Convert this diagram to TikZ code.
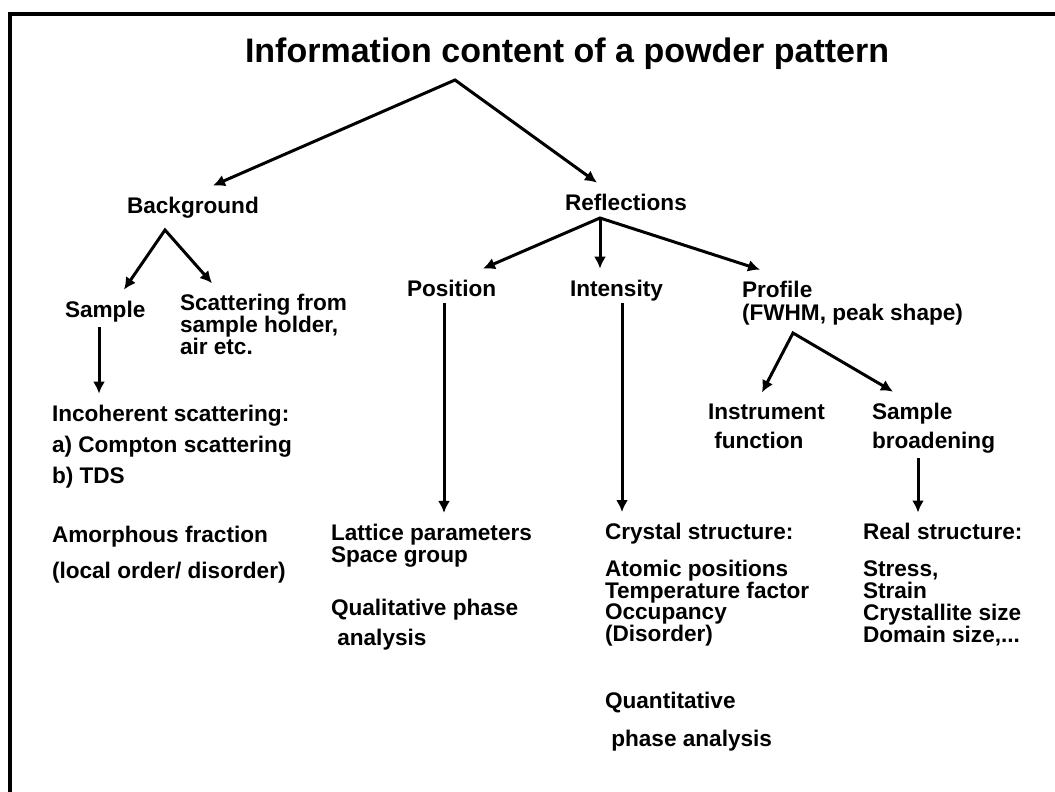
\documentclass[tikz,border=0pt]{standalone}
\usepackage{fontspec}
\setmainfont{Liberation Sans}
\usetikzlibrary{arrows.meta}

\tikzset{
  txt/.style={anchor=base west,align=left,inner sep=0pt,outer xsep=0pt,outer ysep=11pt,
    font=\bfseries\fontsize{22.6}{21.7}\selectfont},
}

\begin{document}
\begin{tikzpicture}[x=1pt,y=-1pt,>={Latex[length=12pt,width=12pt]},line width=3pt]
  \useasboundingbox (0,0) rectangle (1055,792);
  \draw[line width=4pt] (1055,14)--(10,14)--(10,792);

  \node[txt,font=\bfseries\fontsize{34}{40}\selectfont] (title) at (245,63) {Information content of a powder pattern};

  % first level
  \node[txt] (bg) at (127,213) {Background};
  \node[txt] (refl) at (565,210) {Reflections};

  % background branch (multi-line nodes sit on their last baseline)
  \node[txt] (smp) at (65,317) {Sample};
  \node[txt] (holder) at (180,354) {Scattering from\\sample holder,\\air etc.};
  \node[txt] (incoh) at (52,578) {Incoherent scattering:\\[9.3pt]a) Compton scattering\\[9.3pt]b) TDS\\[37.3pt]Amorphous fraction\\[14.3pt](local order/ disorder)};

  % reflections branch
  \node[txt] (pos) at (407,296) {Position};
  \node[txt] (inten) at (570,296) {Intensity};
  \node[txt] (prof) at (742,320) {Profile\\[1.3pt](FWHM, peak shape)};
  \node[txt] (instr) at (708,448) {Instrument\\[7.3pt]\ function};
  \node[txt] (broad) at (872,448) {Sample\\[7.3pt]broadening};
  \node[txt] (lattice) at (331,645) {Lattice parameters\\Space group\\[31.3pt]Qualitative phase\\[8.3pt]\ analysis};
  \node[txt] (crystal) at (605,746) {Crystal structure:\\[15.3pt]Atomic positions\\Temperature factor\\Occupancy\\(Disorder)\\[44.8pt]Quantitative\\[16.3pt]\ phase analysis};
  \node[txt] (real) at (863,642) {Real structure:\\[15.3pt]Stress,\\Strain\\Crystallite size\\Domain size,...};

  % arrows
  \coordinate (topfork) at (455,80);
  \draw[<->] ([xshift=86pt]bg.north west)--(topfork)--([xshift=32pt]refl.north west);
  \coordinate (bgfork) at (165,230);
  \draw[<->] ([xshift=59pt]smp.north west)--(bgfork)--([xshift=32pt]holder.north west);
  \coordinate (smpfoot) at (99,327);
  \draw[->] (smpfoot)--(smpfoot |- incoh.north);
  \coordinate (reflfork) at (600,218);
  \draw[<->] ([xshift=76pt]pos.north west)--(reflfork)--([xshift=18pt]prof.north west);
  \draw[->] (reflfork)--(reflfork |- inten.north);
  \coordinate (posfoot) at (444,303);
  \draw[->] (posfoot)--(posfoot |- lattice.north);
  \coordinate (intfoot) at (622,303);
  \draw[->] (intfoot)--(intfoot |- crystal.north);
  \coordinate (proffork) at (793,333);
  \draw[<->] ([xshift=54pt]instr.north west)--(proffork)--([xshift=21pt]broad.north west);
  \coordinate (broadfoot) at (918,458);
  \draw[->] (broadfoot)--(broadfoot |- real.north);
\end{tikzpicture}
\end{document}
